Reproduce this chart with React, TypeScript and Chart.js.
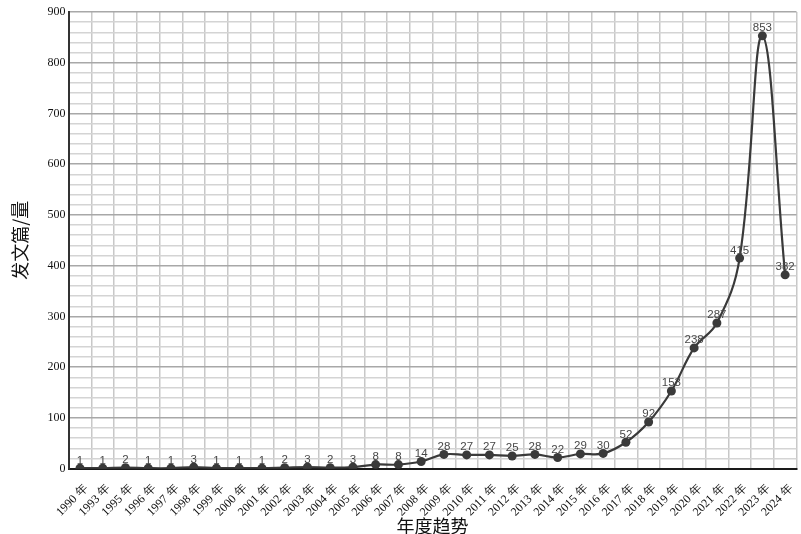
import React, { useEffect, useRef } from "react";
import { Chart, registerables } from "chart.js";

Chart.register(...registerables);

const years = [
  "1990", "1993", "1995", "1996", "1997", "1998", "1999", "2000", "2001", "2002",
  "2003", "2004", "2005", "2006", "2007", "2008", "2009", "2010", "2011", "2012",
  "2013", "2014", "2015", "2016", "2017", "2018", "2019", "2020", "2021", "2022",
  "2023", "2024",
];
const categories = years.map((y) => y + " 年");
const counts = [
  1, 1, 2, 1, 1, 3, 1, 1, 1, 2,
  3, 2, 3, 8, 8, 14, 28, 27, 27, 25,
  28, 22, 29, 30, 52, 92, 153, 238, 287, 415,
  853, 382,
];
const yTitle = "发文篇/量";
const xTitle = "年度趋势";

const valueLabels = {
  id: "valueLabels",
  afterDatasetsDraw(chart: any) {
    const ctx = chart.ctx;
    const meta = chart.getDatasetMeta(0);
    ctx.save();
    ctx.font = "11.5px 'Liberation Sans', sans-serif";
    ctx.fillStyle = "#484848";
    ctx.textAlign = "center";
    ctx.textBaseline = "bottom";
    meta.data.forEach((pt: any, i: number) => {
      ctx.fillText(String(counts[i]), pt.x, pt.y - 2);
    });
    ctx.restore();
  },
};

export default function App() {
  const ref = useRef<HTMLCanvasElement | null>(null);
  useEffect(() => {
    document.body.style.margin = "0";
    const canvas = ref.current!;
    const chart = new Chart(canvas, {
      type: "line",
      data: {
        labels: categories,
        datasets: [
          {
            data: counts,
            borderColor: "#3a3a3a",
            backgroundColor: "#3a3a3a",
            borderWidth: 2.2,
            pointRadius: 4.5,
            pointBackgroundColor: "#3a3a3a",
            pointBorderWidth: 0,
            tension: 0.4,
          },
        ],
      },
      options: {
        responsive: false,
        animation: false,
        layout: { padding: { top: 12, right: 2, left: 9, bottom: -3 } },
        plugins: {
          legend: { display: false },
          tooltip: { enabled: false },
        },
        scales: {
          x: {
            offset: true,
            grid: {
              offset: true,
              color: "#c8c8c8",
              lineWidth: 1.5,
              drawTicks: true,
              tickLength: 13,
              tickColor: "rgba(0,0,0,0)",
            },
            border: { color: "#1a1a1a", width: 2 },
            ticks: {
              autoSkip: false,
              maxRotation: 45,
              minRotation: 45,
              color: "#111",
              padding: 0,
              labelOffset: 6,
              font: { family: "'Liberation Serif', serif", size: 12 },
            },
            title: {
              display: true,
              text: xTitle,
              color: "#111",
              padding: { top: -4, bottom: 0 },
              font: { family: "'Noto Sans CJK SC', sans-serif", size: 18 },
            },
          },
          y: {
            min: 0,
            max: 900,
            grid: {
              color: (c: any) =>
                c.tick && c.tick.value % 100 === 0 ? "#a8a8a8" : "#d4d4d4",
              lineWidth: 1.5,
              drawTicks: false,
            },
            border: { color: "#333", width: 2 },
            ticks: {
              stepSize: 20,
              autoSkip: false,
              padding: 3,
              color: "#111",
              font: { family: "'Liberation Serif', serif", size: 12 },
              callback: (v: any) => (Number(v) % 100 === 0 ? String(v) : ""),
            },
            title: {
              display: true,
              text: yTitle,
              color: "#111",
              padding: { top: 0, bottom: 14 },
              font: { family: "'Noto Sans CJK SC', sans-serif", size: 18 },
            },
          },
        },
      },
      plugins: [valueLabels],
    });
    return () => chart.destroy();
  }, []);
  return (
    <div style={{ width: 801, height: 534 }}>
      <canvas ref={ref} width={801} height={534} />
    </div>
  );
}
